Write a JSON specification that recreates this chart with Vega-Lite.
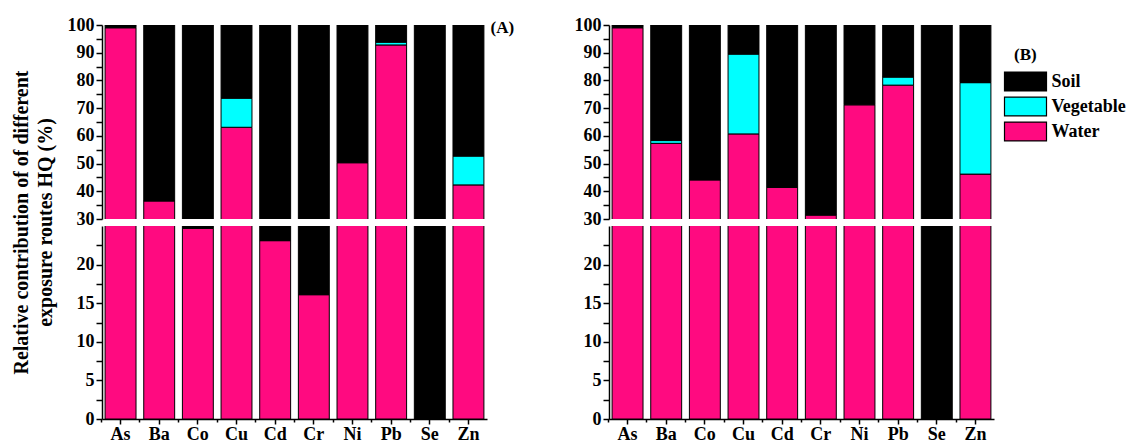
{
  "$schema": "https://vega.github.io/schema/vega-lite/v6.json",
  "background": "white",
  "padding": {"left": 10, "top": 16, "right": 0, "bottom": 0},
  "spacing": 59,
  "config": {
    "view": {"stroke": null},
    "font": "Liberation Serif",
    "axis": {
      "grid": false,
      "domainColor": "black",
      "domainWidth": 1.5,
      "tickColor": "black",
      "tickWidth": 1.5,
      "tickSize": 6,
      "labelFont": "Liberation Serif",
      "labelFontWeight": "bold",
      "labelFontSize": 18,
      "labelColor": "black",
      "labelPadding": 2,
      "titleFont": "Liberation Serif",
      "titleFontWeight": "bold",
      "titleColor": "black"
    },
    "legend": {
      "orient": "none",
      "legendX": 912,
      "legendY": 22,
      "padding": 0,
      "symbolType": "M-2,-0.9H2V0.9H-2Z",
      "symbolSize": 441,
      "symbolStrokeColor": "black",
      "symbolStrokeWidth": 1.2,
      "symbolOpacity": 1,
      "labelFont": "Liberation Serif",
      "labelFontWeight": "bold",
      "labelFontSize": 18,
      "labelColor": "black",
      "labelOffset": 14.5,
      "rowPadding": 0,
      "titleFont": "Liberation Serif",
      "titleFontWeight": "bold",
      "titleFontSize": 17,
      "titleColor": "black",
      "titlePadding": 6
    }
  },
  "datasets": {
    "d": [
      {"p": "A", "el": "As", "r": "Water", "v": 99},
      {"p": "A", "el": "As", "r": "Soil", "v": 1},
      {"p": "A", "el": "Ba", "r": "Water", "v": 36.5},
      {"p": "A", "el": "Ba", "r": "Soil", "v": 63.5},
      {"p": "A", "el": "Co", "r": "Water", "v": 24.7},
      {"p": "A", "el": "Co", "r": "Soil", "v": 75.3},
      {"p": "A", "el": "Cu", "r": "Water", "v": 63.1},
      {"p": "A", "el": "Cu", "r": "Vegetable", "v": 10.5},
      {"p": "A", "el": "Cu", "r": "Soil", "v": 26.4},
      {"p": "A", "el": "Cd", "r": "Water", "v": 23.1},
      {"p": "A", "el": "Cd", "r": "Soil", "v": 76.9},
      {"p": "A", "el": "Cr", "r": "Water", "v": 16.1},
      {"p": "A", "el": "Cr", "r": "Soil", "v": 83.9},
      {"p": "A", "el": "Ni", "r": "Water", "v": 50.3},
      {"p": "A", "el": "Ni", "r": "Soil", "v": 49.7},
      {"p": "A", "el": "Pb", "r": "Water", "v": 92.8},
      {"p": "A", "el": "Pb", "r": "Vegetable", "v": 1.0},
      {"p": "A", "el": "Pb", "r": "Soil", "v": 6.2},
      {"p": "A", "el": "Se", "r": "Soil", "v": 100},
      {"p": "A", "el": "Zn", "r": "Water", "v": 42.3},
      {"p": "A", "el": "Zn", "r": "Vegetable", "v": 10.4},
      {"p": "A", "el": "Zn", "r": "Soil", "v": 47.3},
      {"p": "B", "el": "As", "r": "Water", "v": 99},
      {"p": "B", "el": "As", "r": "Soil", "v": 1},
      {"p": "B", "el": "Ba", "r": "Water", "v": 57.3},
      {"p": "B", "el": "Ba", "r": "Vegetable", "v": 1.0},
      {"p": "B", "el": "Ba", "r": "Soil", "v": 41.7},
      {"p": "B", "el": "Co", "r": "Water", "v": 44.1},
      {"p": "B", "el": "Co", "r": "Soil", "v": 55.9},
      {"p": "B", "el": "Cu", "r": "Water", "v": 60.7},
      {"p": "B", "el": "Cu", "r": "Vegetable", "v": 28.8},
      {"p": "B", "el": "Cu", "r": "Soil", "v": 10.5},
      {"p": "B", "el": "Cd", "r": "Water", "v": 41.4},
      {"p": "B", "el": "Cd", "r": "Soil", "v": 58.6},
      {"p": "B", "el": "Cr", "r": "Water", "v": 31.4},
      {"p": "B", "el": "Cr", "r": "Soil", "v": 68.6},
      {"p": "B", "el": "Ni", "r": "Water", "v": 71.2},
      {"p": "B", "el": "Ni", "r": "Soil", "v": 28.8},
      {"p": "B", "el": "Pb", "r": "Water", "v": 78.3},
      {"p": "B", "el": "Pb", "r": "Vegetable", "v": 2.9},
      {"p": "B", "el": "Pb", "r": "Soil", "v": 18.8},
      {"p": "B", "el": "Se", "r": "Soil", "v": 100},
      {"p": "B", "el": "Zn", "r": "Water", "v": 46.2},
      {"p": "B", "el": "Zn", "r": "Vegetable", "v": 33.0},
      {"p": "B", "el": "Zn", "r": "Soil", "v": 20.8}
    ]
  },
  "data": {"name": "d"},
  "hconcat": [
    {
      "bounds": "flush",
      "spacing": 7,
      "transform": [{"filter": "datum.p === 'A'"}],
      "vconcat": [
        {
          "width": 385,
          "height": 194,
          "title": {"text": "(A)", "orient": "right", "anchor": "start", "angle": 0, "align": "left", "baseline": "middle", "offset": -20, "dy": 12, "font": "Liberation Serif", "fontWeight": "bold", "fontSize": 17, "color": "black"},
          "mark": {"type": "bar", "clip": true, "stroke": "black", "strokeWidth": 1},
          "encoding": {
            "x": {"field": "el", "type": "nominal", "sort": ["As", "Ba", "Co", "Cu", "Cd", "Cr", "Ni", "Pb", "Se", "Zn"], "scale": {"paddingInner": 0.2, "paddingOuter": 0.08}, "axis": null},
            "y": {"field": "v", "type": "quantitative", "stack": "zero", "scale": {"domain": [30, 100], "nice": false, "zero": false},
              "axis": {"values": [30, 35, 40, 45, 50, 55, 60, 65, 70, 75, 80, 85, 90, 95, 100], "labelExpr": "datum.value % 10 === 0 ? datum.label : ''",
                "title": ["Relative contribution of of different", "exposure routes HQ (%)"], "titleFontSize": 20, "titleLineHeight": 24, "titleAngle": -90, "titleBaseline": "middle", "titleAlign": "center", "titleX": -81, "titleY": 197}},
            "color": {"field": "r", "type": "nominal", "title": "(B)", "scale": {"domain": ["Soil", "Vegetable", "Water"], "range": ["#000000", "#00FFFF", "#FF0A80"]}},
            "order": {"field": "r", "sort": "descending"}
          }
        },
        {
          "width": 385,
          "height": 193,
          "layer": [
            {
              "mark": {"type": "bar", "clip": true, "stroke": "black", "strokeWidth": 1},
              "encoding": {
                "x": {"field": "el", "type": "nominal", "sort": ["As", "Ba", "Co", "Cu", "Cd", "Cr", "Ni", "Pb", "Se", "Zn"], "scale": {"paddingInner": 0.2, "paddingOuter": 0.08}, "axis": {"title": null, "labelAngle": 0, "orient": "bottom", "tickSize": 5, "labelPadding": 1}},
                "y": {"field": "v", "type": "quantitative", "stack": "zero", "scale": {"domain": [0, 25], "nice": false},
                  "axis": {"title": null, "values": [0, 2.5, 5, 7.5, 10, 12.5, 15, 17.5, 20, 22.5], "labelExpr": "datum.value % 5 === 0 ? datum.label : ''"}},
                "color": {"field": "r", "type": "nominal", "title": "(B)", "scale": {"domain": ["Soil", "Vegetable", "Water"], "range": ["#000000", "#00FFFF", "#FF0A80"]}},
                "order": {"field": "r", "sort": "descending"}
              }
            },
            {
              "mark": {"type": "bar", "opacity": 0},
              "encoding": {
                "x": {"field": "el", "type": "nominal", "sort": ["As", "Ba", "Co", "Cu", "Cd", "Cr", "Ni", "Pb", "Se", "Zn"], "axis": {"title": null, "orient": "bottom", "labels": false, "domain": false, "tickSize": 3, "bandPosition": -0.125}}
              }
            }
          ],
          "resolve": {"axis": {"x": "independent"}}
        }
      ]
    },
    {
      "bounds": "flush",
      "spacing": 7,
      "transform": [{"filter": "datum.p === 'B'"}],
      "vconcat": [
        {
          "width": 385,
          "height": 194,
          "mark": {"type": "bar", "clip": true, "stroke": "black", "strokeWidth": 1},
          "encoding": {
            "x": {"field": "el", "type": "nominal", "sort": ["As", "Ba", "Co", "Cu", "Cd", "Cr", "Ni", "Pb", "Se", "Zn"], "scale": {"paddingInner": 0.2, "paddingOuter": 0.08}, "axis": null},
            "y": {"field": "v", "type": "quantitative", "stack": "zero", "scale": {"domain": [30, 100], "nice": false, "zero": false},
              "axis": {"title": null, "values": [30, 35, 40, 45, 50, 55, 60, 65, 70, 75, 80, 85, 90, 95, 100], "labelExpr": "datum.value % 10 === 0 ? datum.label : ''"}},
            "color": {"field": "r", "type": "nominal", "title": "(B)", "scale": {"domain": ["Soil", "Vegetable", "Water"], "range": ["#000000", "#00FFFF", "#FF0A80"]}},
            "order": {"field": "r", "sort": "descending"}
          }
        },
        {
          "width": 385,
          "height": 193,
          "layer": [
            {
              "mark": {"type": "bar", "clip": true, "stroke": "black", "strokeWidth": 1},
              "encoding": {
                "x": {"field": "el", "type": "nominal", "sort": ["As", "Ba", "Co", "Cu", "Cd", "Cr", "Ni", "Pb", "Se", "Zn"], "scale": {"paddingInner": 0.2, "paddingOuter": 0.08}, "axis": {"title": null, "labelAngle": 0, "orient": "bottom", "tickSize": 5, "labelPadding": 1}},
                "y": {"field": "v", "type": "quantitative", "stack": "zero", "scale": {"domain": [0, 25], "nice": false},
                  "axis": {"title": null, "values": [0, 2.5, 5, 7.5, 10, 12.5, 15, 17.5, 20, 22.5], "labelExpr": "datum.value % 5 === 0 ? datum.label : ''"}},
                "color": {"field": "r", "type": "nominal", "title": "(B)", "scale": {"domain": ["Soil", "Vegetable", "Water"], "range": ["#000000", "#00FFFF", "#FF0A80"]}},
                "order": {"field": "r", "sort": "descending"}
              }
            },
            {
              "mark": {"type": "bar", "opacity": 0},
              "encoding": {
                "x": {"field": "el", "type": "nominal", "sort": ["As", "Ba", "Co", "Cu", "Cd", "Cr", "Ni", "Pb", "Se", "Zn"], "axis": {"title": null, "orient": "bottom", "labels": false, "domain": false, "tickSize": 3, "bandPosition": -0.125}}
              }
            }
          ],
          "resolve": {"axis": {"x": "independent"}}
        }
      ]
    }
  ]
}
